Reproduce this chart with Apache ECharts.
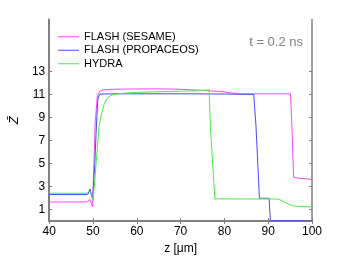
<!DOCTYPE html>
<html><head><meta charset="utf-8">
<script src="https://cdn.jsdelivr.net/npm/echarts@6/dist/echarts.min.js"></script>
<style>html,body{margin:0;padding:0;background:#fff}#c{width:346px;height:260px}</style>
</head><body><div id="c"></div>
<script>
// ---- data ----
const seriesNames = ['FLASH (SESAME)', 'FLASH (PROPACEOS)', 'HYDRA'];
const sesameZ = [40, 48.6, 49.3, 49.9, 50.2, 50.5, 51.0, 51.6, 52.5, 55, 60, 65, 69.5, 75, 79.2, 83, 90, 95.1, 95.4, 95.8, 97, 100];
const sesameV = [1.66, 1.66, 1.88, 1.23, 5.0, 8.6, 10.9, 11.3, 11.4, 11.45, 11.47, 11.48, 11.45, 11.35, 11.25, 11.05, 11.05, 11.05, 8.3, 3.82, 3.72, 3.62];
const propZ = [40, 48.8, 49.3, 49.9, 50.4, 50.8, 51.1, 51.5, 55, 60, 70, 80, 86.7, 87.2, 88.0, 90.2, 90.5, 92, 100];
const propV = [2.31, 2.31, 2.78, 1.85, 5.0, 8.5, 10.6, 11.02, 11.05, 11.05, 11.05, 11.03, 11.0, 8.3, 1.98, 1.98, 0.03, 0.03, 0.03];
const hydraZ = [40, 48.5, 49.0, 49.5, 50.0, 50.4, 50.8, 51.4, 52.0, 52.5, 53.1, 54, 55, 57, 60, 65, 70, 74, 76.5, 76.8, 77.8, 85, 91.9, 92.6, 94, 95.6, 97, 100];
const hydraV = [2.42, 2.42, 2.58, 2.5, 1.8, 3.5, 5.5, 8.3, 9.4, 10.1, 10.6, 10.9, 11.0, 11.1, 11.17, 11.23, 11.27, 11.32, 11.39, 8.3, 1.93, 1.92, 1.92, 1.87, 1.6, 1.33, 1.27, 1.23];
const xTicks = [40, 50, 60, 70, 80, 90, 100];
const yTicks = [1, 3, 5, 7, 9, 11, 13];
const colors = ['#ff44ff', '#4848ff', '#44ee44'];

const pairs = (xs, ys) => xs.map((x, i) => [x, ys[i]]);
const font = 'Liberation Sans, Arial, sans-serif';
const axisCol = '#808080';

const chart = echarts.init(document.getElementById('c'), null, {renderer: 'canvas'});
chart.setOption({
  animation: false,
  grid: {left: 45, right: 34, top: 19.5, bottom: 31, containLabel: false},
  legend: {
    orient: 'vertical', left: 53, top: 25, itemWidth: 21, itemHeight: 1, itemGap: 0,
    icon: 'rect',
    data: seriesNames,
    textStyle: {fontFamily: font, fontSize: 11, color: '#000', lineHeight: 13.5}
  },
  graphic: [{
    type: 'text', right: 43, top: 36,
    style: {text: 't = 0.2 ns', font: '13px ' + font, fill: '#808080'}
  }],
  xAxis: [{
    type: 'value', min: 40, max: 100, interval: 10,
    name: 'z [μm]', nameLocation: 'middle', nameGap: 16,
    nameTextStyle: {fontFamily: font, fontSize: 12, color: '#000'},
    axisLine: {lineStyle: {color: axisCol, width: 2}},
    axisTick: {inside: true, length: 3, lineStyle: {color: axisCol}},
    axisLabel: {fontFamily: font, fontSize: 12, color: '#000', margin: 5},
    splitLine: {show: false}
  }, {
    type: 'value', position: 'top', min: 40, max: 100, interval: 10,
    axisLine: {show: true, lineStyle: {color: axisCol, width: 1.5}},
    axisTick: {show: true, inside: true, length: 3, lineStyle: {color: axisCol}},
    axisLabel: {show: false}, splitLine: {show: false}
  }],
  yAxis: [{
    type: 'value', min: 0, max: 17.5,
    name: 'Z\u0304', nameLocation: 'middle', nameGap: 28, nameRotate: 90,
    nameTextStyle: {fontFamily: font, fontSize: 13, fontStyle: 'italic', color: '#000'},
    axisLine: {show: true, lineStyle: {color: axisCol, width: 2}},
    axisTick: {show: true, inside: true, length: 3, customValues: yTicks, lineStyle: {color: axisCol}},
    axisLabel: {fontFamily: font, fontSize: 12, color: '#000', margin: 4, customValues: yTicks},
    splitLine: {show: false}
  }, {
    type: 'value', position: 'right', min: 0, max: 17.5,
    axisLine: {show: true, lineStyle: {color: axisCol, width: 1.5}},
    axisTick: {show: true, inside: true, length: 3, customValues: yTicks, lineStyle: {color: axisCol}},
    axisLabel: {show: false}, splitLine: {show: false}
  }],
  series: [
    {name: seriesNames[0], type: 'line', symbol: 'none', data: pairs(sesameZ, sesameV), lineStyle: {width: 1, color: colors[0]}, itemStyle: {color: colors[0]}},
    {name: seriesNames[1], type: 'line', symbol: 'none', data: pairs(propZ, propV), lineStyle: {width: 1, color: colors[1]}, itemStyle: {color: colors[1]}},
    {name: seriesNames[2], type: 'line', symbol: 'none', data: pairs(hydraZ, hydraV), lineStyle: {width: 1, color: colors[2]}, itemStyle: {color: colors[2]}}
  ]
});
</script></body></html>
